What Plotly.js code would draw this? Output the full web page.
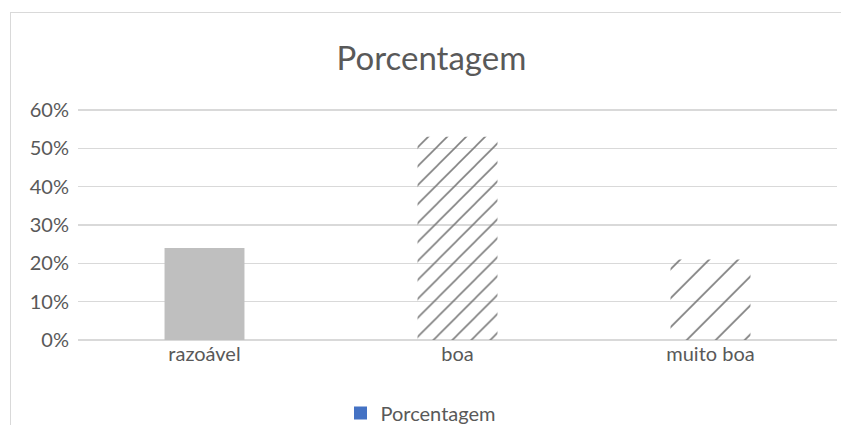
<!DOCTYPE html>
<html>
<head>
<meta charset="utf-8">
<script src="https://cdn.plot.ly/plotly-3.0.1.min.js"></script>
<style>
  html, body { margin: 0; padding: 0; background: #fff; }
  #wrap { position: relative; width: 841px; height: 425px; overflow: hidden; }
  #chart { position: absolute; left: 0; top: 0; width: 841px; height: 425px; }
  #frame { position: absolute; left: 10px; top: 12px; width: 840px; height: 420px;
           border: 1px solid #d9d9d9; pointer-events: none; }
</style>
</head>
<body>
<div id="wrap"><div id="chart"></div><div id="frame"></div></div>
<script>
const categories = ['razoável', 'boa', 'muito boa'];
const values = [0.24, 0.53, 0.21];
const seriesName = 'Porcentagem';
const tickValues = [0, 0.1, 0.2, 0.3, 0.4, 0.5, 0.6];
const tickLabels = ['0%', '10%', '20%', '30%', '40%', '50%', '60%'];

const textColor = '#595959';
const font = 'Lato, "Open Sans", sans-serif';

const data = [
  {
    type: 'bar',
    x: categories,
    y: values,
    name: seriesName,
    showlegend: false,
    width: 0.316,
    hoverinfo: 'x+y',
    marker: {
      color: ['#bfbfbf', '#7f7f7f', '#7f7f7f'],
      line: { width: 0 },
      pattern: {
        shape: ['', '/', '/'],
        size: [13.4, 13.4, 20.5],
        solidity: [0.12, 0.12, 0.085],
        bgcolor: ['#bfbfbf', '#ffffff', '#ffffff'],
        fillmode: 'replace'
      }
    }
  },
  {
    type: 'scatter',
    mode: 'markers',
    x: [categories[0]],
    y: [null],
    name: seriesName,
    showlegend: true,
    hoverinfo: 'skip',
    marker: { symbol: 'square', size: 13, color: '#4472c4' }
  }
];

const layout = {
  width: 841,
  height: 425,
  margin: { l: 78, r: 4, t: 108, b: 85 },
  paper_bgcolor: '#ffffff',
  plot_bgcolor: '#ffffff',
  barmode: 'overlay',
  font: { family: font, color: textColor, size: 20 },
  title: {
    text: 'Porcentagem',
    font: { family: font, size: 33, color: textColor },
    x: 0.513, xanchor: 'center',
    y: 1 - 58 / 425, yanchor: 'middle'
  },
  xaxis: {
    type: 'category',
    tickfont: { family: font, size: 20, color: textColor },
    showgrid: false,
    showline: false,
    ticks: '',
    fixedrange: true
  },
  yaxis: {
    range: [0, 0.605],
    tickvals: tickValues,
    ticktext: tickLabels,
    tickfont: { family: font, size: 20, color: textColor },
    showgrid: true,
    gridcolor: '#d9d9d9',
    gridwidth: 1.5,
    zeroline: true,
    zerolinecolor: '#d9d9d9',
    zerolinewidth: 1.5,
    showline: false,
    ticks: '',
    ticklabelstandoff: 8,
    fixedrange: true
  },
  showlegend: true,
  legend: {
    orientation: 'h',
    x: 0.5, xanchor: 'center', xref: 'container',
    y: 1 - 413 / 425, yanchor: 'middle', yref: 'container',
    font: { family: font, size: 20, color: textColor },
    bgcolor: 'rgba(0,0,0,0)'
  }
};

Plotly.newPlot('chart', data, layout, { displayModeBar: false, staticPlot: true });
</script>
</body>
</html>
